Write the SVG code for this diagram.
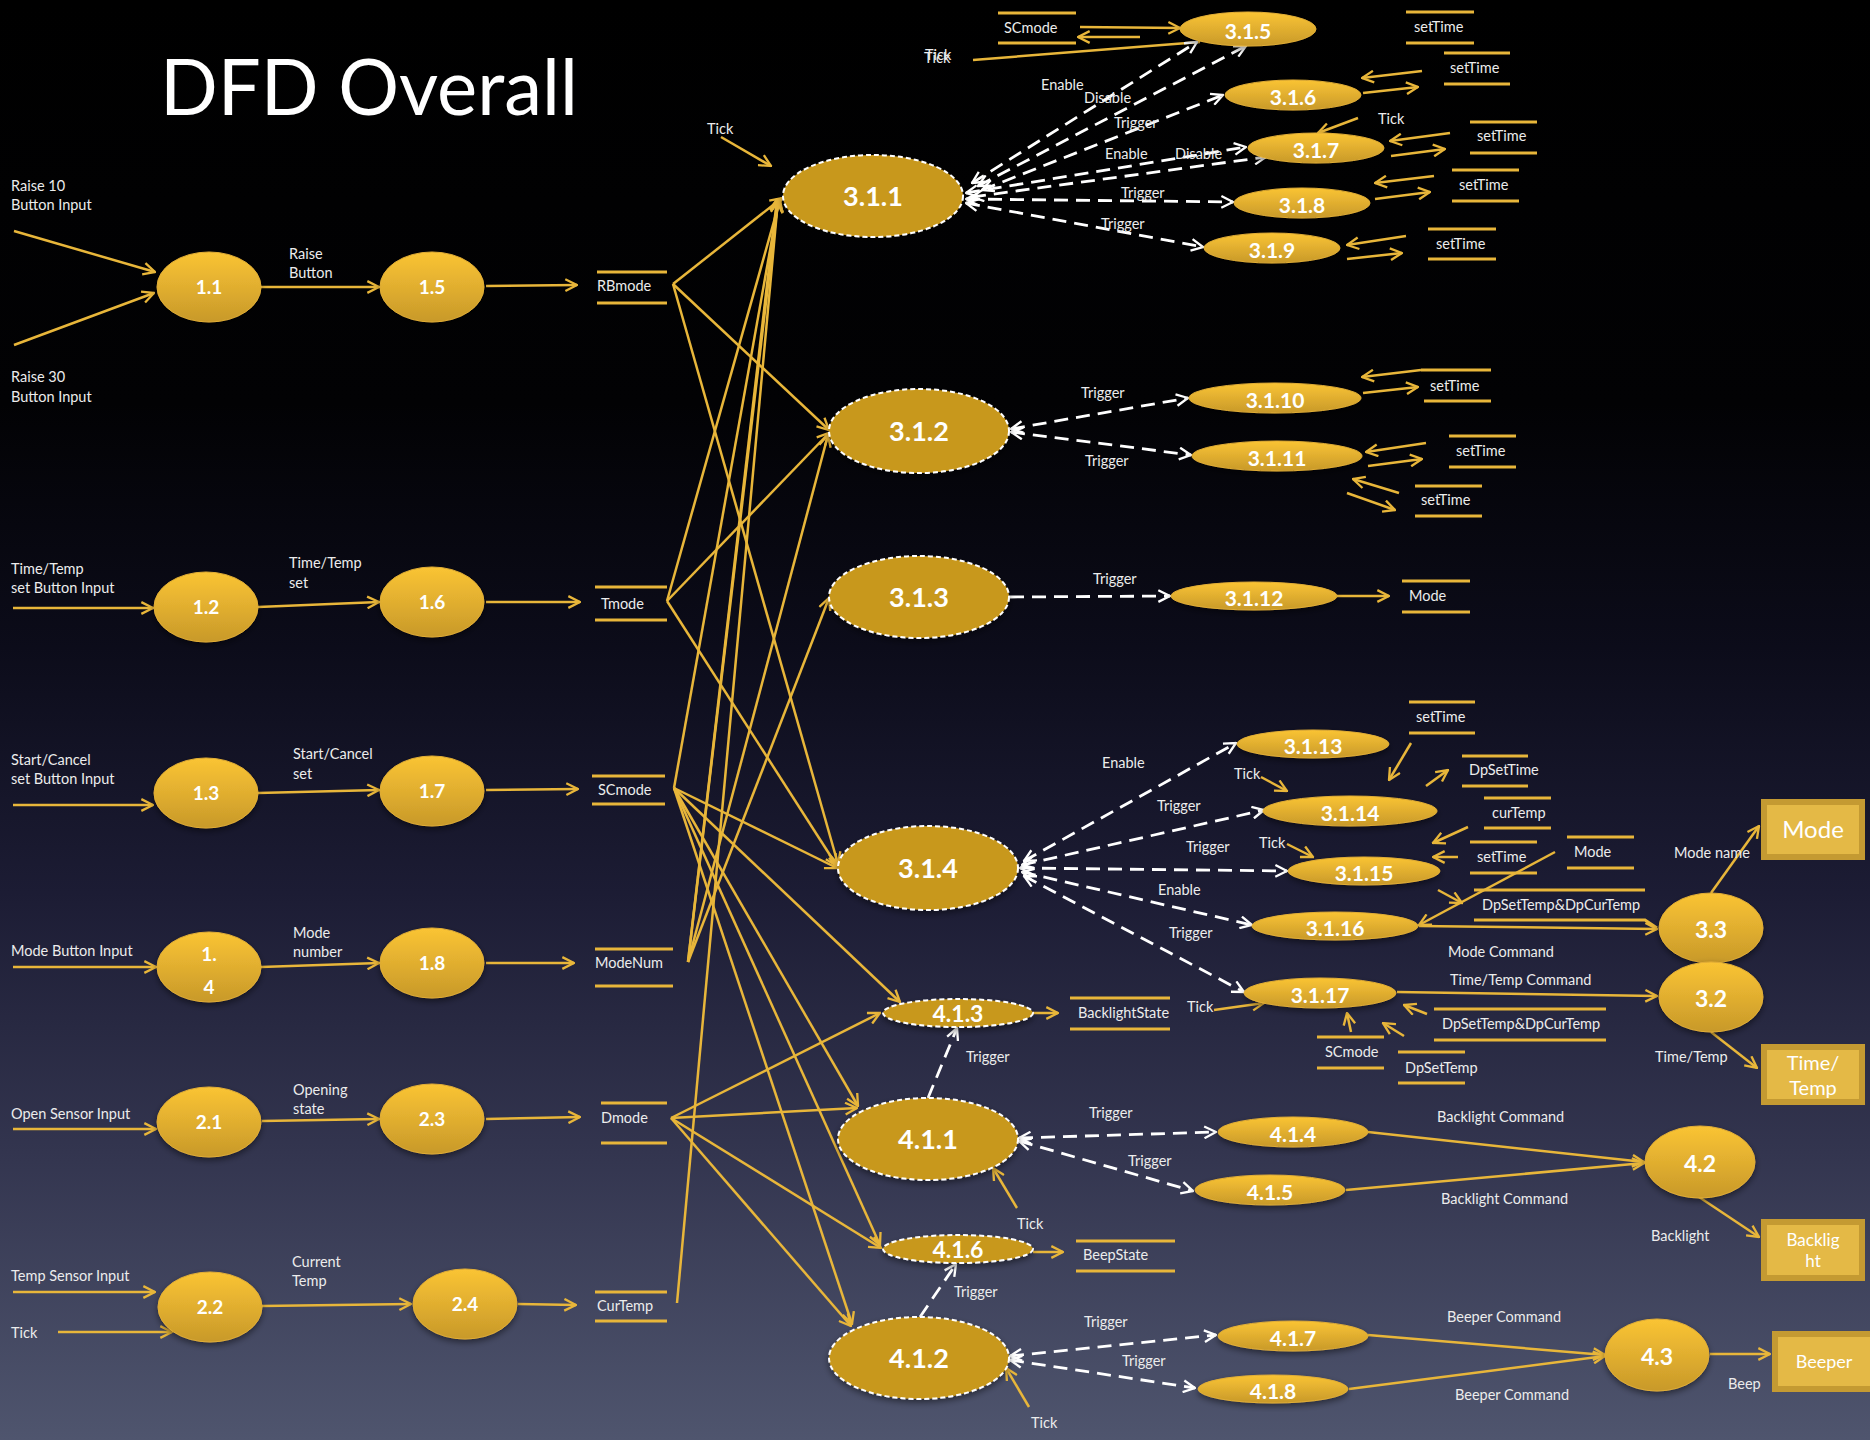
<svg xmlns="http://www.w3.org/2000/svg" width="1870" height="1440" viewBox="0 0 1870 1440">
<defs>
  <linearGradient id="bg" x1="0" y1="0" x2="0" y2="1">
    <stop offset="0" stop-color="#000000"/>
    <stop offset="0.28" stop-color="#020204"/>
    <stop offset="0.45" stop-color="#0c0c1a"/>
    <stop offset="0.62" stop-color="#1c1c34"/>
    <stop offset="0.8" stop-color="#33354f"/>
    <stop offset="1" stop-color="#4f556e"/>
  </linearGradient>
  <linearGradient id="gold" x1="0" y1="0" x2="0" y2="1">
    <stop offset="0" stop-color="#fac434"/>
    <stop offset="1" stop-color="#c8992a"/>
  </linearGradient>
  <filter id="sh" x="-20%" y="-20%" width="140%" height="150%">
    <feDropShadow dx="0" dy="3" stdDeviation="3" flood-color="#000" flood-opacity="0.45"/>
  </filter>
  <marker id="ah" viewBox="0 0 12 12" refX="11" refY="6" markerWidth="14" markerHeight="14" markerUnits="userSpaceOnUse" orient="auto">
    <path d="M1,1 L11,6 L1,11" fill="none" stroke="#e8b63a" stroke-width="2"/>
  </marker>
  <marker id="wh" viewBox="0 0 12 12" refX="11" refY="6" markerWidth="14" markerHeight="14" markerUnits="userSpaceOnUse" orient="auto-start-reverse">
    <path d="M1,1 L11,6 L1,11" fill="none" stroke="#ffffff" stroke-width="2"/>
  </marker>
  <style>
    .lbl{font-family:Lato,"Liberation Sans",sans-serif;font-size:14.5px;fill:#ececec}
    .ttl{font-family:Lato,"Liberation Sans",sans-serif;font-size:77px;fill:#ffffff}
    .num{font-family:Lato,"Liberation Sans",sans-serif;font-weight:700;fill:#ffffff;text-anchor:middle}
    .n19{font-size:19px}
    .n21{font-size:21px}
    .n23{font-size:23px}
    .n27{font-size:27px}
    .node{fill:url(#gold);stroke:#e2ae36;stroke-width:1;filter:url(#sh)}
    .dnode{fill:#c8981c;stroke:#ffffff;stroke-width:2;stroke-dasharray:5 3;filter:url(#sh)}
    .ent{fill:#e4b946;stroke:#c49a32;stroke-width:6}
    .entt{font-family:Lato,"Liberation Sans",sans-serif;fill:#ffffff;text-anchor:middle}
    .store{stroke:#e8b63a;stroke-width:3;fill:none}
    .f{stroke:#e8b63a;stroke-width:2.5;fill:none;marker-end:url(#ah)}
    .p{stroke:#e8b63a;stroke-width:2.5;fill:none}
    .d{stroke:#ffffff;stroke-width:2.8;stroke-dasharray:14 8;fill:none;marker-end:url(#wh)}
    .b{marker-start:url(#wh)}
  </style>
</defs>

<rect x="0" y="0" width="1870" height="1440" fill="url(#bg)"/>
<text class="ttl" x="160" y="115" textLength="418" lengthAdjust="spacingAndGlyphs">DFD Overall</text>

<!-- flows -->
<g id="connectors">
  <!-- input rows -->
  <line class="f" x1="14" y1="231" x2="155" y2="272"/>
  <line class="f" x1="14" y1="345" x2="154" y2="293"/>
  <line class="f" x1="261" y1="287" x2="379" y2="287"/>
  <line class="f" x1="486" y1="286" x2="577" y2="285"/>
  <line class="f" x1="13" y1="608" x2="153" y2="608"/>
  <line class="f" x1="258" y1="607" x2="379" y2="602"/>
  <line class="f" x1="486" y1="602" x2="580" y2="602"/>
  <line class="f" x1="13" y1="805" x2="153" y2="805"/>
  <line class="f" x1="258" y1="793" x2="379" y2="790"/>
  <line class="f" x1="486" y1="790" x2="578" y2="789"/>
  <line class="f" x1="13" y1="967" x2="156" y2="967"/>
  <line class="f" x1="261" y1="967" x2="379" y2="963"/>
  <line class="f" x1="486" y1="963" x2="574" y2="963"/>
  <line class="f" x1="13" y1="1129" x2="156" y2="1129"/>
  <line class="f" x1="262" y1="1121" x2="379" y2="1119"/>
  <line class="f" x1="486" y1="1119" x2="580" y2="1117"/>
  <line class="f" x1="13" y1="1292" x2="155" y2="1292"/>
  <line class="f" x1="58" y1="1332" x2="172" y2="1332"/>
  <line class="f" x1="262" y1="1306" x2="411" y2="1304"/>
  <line class="f" x1="518" y1="1304" x2="576" y2="1305"/>

  <!-- stores fanning out to mode handlers -->
  <line class="f" x1="673" y1="284" x2="782" y2="198"/>
  <line class="f" x1="673" y1="284" x2="829" y2="430"/>
  <line class="f" x1="673" y1="284" x2="838" y2="864"/>
  <line class="f" x1="667" y1="601" x2="780" y2="200"/>
  <line class="f" x1="667" y1="601" x2="829" y2="433"/>
  <line class="f" x1="667" y1="601" x2="837" y2="866"/>
  <line class="f" x1="674" y1="788" x2="779" y2="200"/>
  <line class="f" x1="674" y1="788" x2="837" y2="868"/>
  <line class="f" x1="674" y1="788" x2="900" y2="1002"/>
  <line class="f" x1="674" y1="788" x2="858" y2="1106"/>
  <line class="f" x1="674" y1="788" x2="880" y2="1245"/>
  <line class="f" x1="674" y1="788" x2="852" y2="1324"/>
  <line class="f" x1="688" y1="962" x2="778" y2="201"/>
  <line class="f" x1="688" y1="962" x2="777" y2="199"/>
  <line class="f" x1="688" y1="962" x2="828" y2="435"/>
  <line class="f" x1="688" y1="962" x2="829" y2="598"/>
  <line class="f" x1="671" y1="1118" x2="880" y2="1013"/>
  <line class="f" x1="671" y1="1118" x2="857" y2="1108"/>
  <line class="f" x1="671" y1="1118" x2="881" y2="1248"/>
  <line class="f" x1="671" y1="1118" x2="851" y2="1326"/>
  <line class="f" x1="677" y1="1303" x2="778" y2="200"/>

  <!-- 3.1.1 cluster -->
  <line class="f" x1="721" y1="137" x2="771" y2="166"/>
  <line class="f" x1="1080" y1="27" x2="1180" y2="28"/>
  <line class="f" x1="1140" y1="37" x2="1078" y2="37"/>
  <line class="p" x1="973" y1="60" x2="1200" y2="42"/>
  <line class="f" x1="1422" y1="71" x2="1362" y2="78"/>
  <line class="f" x1="1363" y1="93" x2="1418" y2="87"/>
  <line class="f" x1="1358" y1="118" x2="1318" y2="133"/>
  <line class="f" x1="1450" y1="133" x2="1390" y2="141"/>
  <line class="f" x1="1391" y1="156" x2="1445" y2="149"/>
  <line class="f" x1="1434" y1="176" x2="1375" y2="183"/>
  <line class="f" x1="1375" y1="199" x2="1430" y2="192"/>
  <line class="f" x1="1406" y1="236" x2="1347" y2="245"/>
  <line class="f" x1="1347" y1="259" x2="1402" y2="253"/>
  <path class="d b" d="M972,183 L1197,42"/>
  <path class="d b" d="M978,186 L1246,46"/>
  <path class="d b" d="M982,190 L1223,95"/>
  <path class="d b" d="M966,193 L1246,147"/>
  <path class="d b" d="M972,197 L1266,157"/>
  <path class="d b" d="M966,199 L1233,202"/>
  <path class="d b" d="M966,203 L1203,247"/>

  <!-- 3.1.2 / 3.1.3 cluster -->
  <path class="d b" d="M1011,429 L1188,398"/>
  <path class="d b" d="M1011,432 L1191,455"/>
  <line class="f" x1="1421" y1="370" x2="1362" y2="377"/>
  <line class="f" x1="1363" y1="393" x2="1418" y2="387"/>
  <line class="f" x1="1426" y1="443" x2="1366" y2="452"/>
  <line class="f" x1="1368" y1="466" x2="1422" y2="459"/>
  <line class="f" x1="1399" y1="493" x2="1353" y2="479"/>
  <line class="f" x1="1347" y1="493" x2="1395" y2="510"/>
  <path class="d" d="M1010,597 L1170,596"/>
  <line class="f" x1="1337" y1="596" x2="1389" y2="596"/>

  <!-- 3.1.4 cluster -->
  <path class="d b" d="M1024,861 L1236,743"/>
  <path class="d b" d="M1022,865 L1264,810"/>
  <path class="d b" d="M1020,868 L1287,871"/>
  <path class="d b" d="M1022,872 L1252,925"/>
  <path class="d b" d="M1024,876 L1244,992"/>
  <line class="f" x1="1411" y1="743" x2="1389" y2="780"/>
  <line class="f" x1="1261" y1="777" x2="1287" y2="791"/>
  <line class="f" x1="1426" y1="786" x2="1448" y2="770"/>
  <line class="f" x1="1468" y1="827" x2="1433" y2="843"/>
  <line class="f" x1="1458" y1="857" x2="1433" y2="857"/>
  <line class="f" x1="1287" y1="844" x2="1313" y2="857"/>
  <line class="f" x1="1438" y1="890" x2="1462" y2="903"/>
  <line class="f" x1="1555" y1="852" x2="1419" y2="925"/>
  <line class="f" x1="1419" y1="926" x2="1657" y2="929"/>
  <line class="f" x1="1397" y1="992" x2="1657" y2="996"/>
  <line class="f" x1="1214" y1="1010" x2="1264" y2="1003"/>
  <line class="f" x1="1427" y1="1014" x2="1404" y2="1005"/>
  <line class="f" x1="1351" y1="1032" x2="1347" y2="1013"/>
  <line class="f" x1="1404" y1="1036" x2="1383" y2="1023"/>
  <line class="f" x1="1711" y1="893" x2="1759" y2="826"/>
  <line class="f" x1="1711" y1="1032" x2="1757" y2="1068"/>

  <!-- 4.x clusters -->
  <line class="f" x1="1033" y1="1013" x2="1058" y2="1013"/>
  <path class="d" d="M928,1098 L957,1028"/>
  <path class="d b" d="M1019,1138 L1216,1132"/>
  <path class="d b" d="M1019,1141 L1193,1191"/>
  <line class="f" x1="1368" y1="1132" x2="1644" y2="1162"/>
  <line class="f" x1="1346" y1="1190" x2="1644" y2="1163"/>
  <line class="f" x1="1699" y1="1197" x2="1759" y2="1237"/>
  <line class="f" x1="1017" y1="1208" x2="993" y2="1168"/>
  <line class="f" x1="1033" y1="1252" x2="1063" y2="1252"/>
  <path class="d" d="M920,1317 L956,1264"/>
  <path class="d b" d="M1010,1356 L1216,1335"/>
  <path class="d b" d="M1010,1360 L1195,1388"/>
  <line class="f" x1="1368" y1="1335" x2="1605" y2="1355"/>
  <line class="f" x1="1349" y1="1389" x2="1605" y2="1356"/>
  <line class="f" x1="1710" y1="1354" x2="1770" y2="1354"/>
  <line class="f" x1="1029" y1="1407" x2="1006" y2="1368"/>
</g>

<!-- flow labels -->
<g id="labels" class="lbl">
  <text x="11" y="191">Raise 10</text><text x="11" y="210">Button Input</text>
  <text x="11" y="382">Raise 30</text><text x="11" y="402">Button Input</text>
  <text x="289" y="259">Raise</text><text x="289" y="278">Button</text>
  <text x="11" y="574">Time/Temp</text><text x="11" y="593">set Button Input</text>
  <text x="289" y="568">Time/Temp</text><text x="289" y="588">set</text>
  <text x="11" y="765">Start/Cancel</text><text x="11" y="784">set Button Input</text>
  <text x="293" y="759">Start/Cancel</text><text x="293" y="779">set</text>
  <text x="11" y="956">Mode Button Input</text>
  <text x="293" y="938">Mode</text><text x="293" y="957">number</text>
  <text x="11" y="1119">Open Sensor Input</text>
  <text x="293" y="1095">Opening</text><text x="293" y="1114">state</text>
  <text x="11" y="1281">Temp Sensor Input</text>
  <text x="11" y="1338">Tick</text>
  <text x="292" y="1267">Current</text><text x="292" y="1286">Temp</text>
  <text x="707" y="134">Tick</text>
  <text x="924" y="63">Tick</text><text x="925" y="60">Tick</text>
  <text x="1041" y="90">Enable</text>
  <text x="1084" y="103">Disable</text>
  <text x="1114" y="128">Trigger</text>
  <text x="1105" y="159">Enable</text>
  <text x="1175" y="159">Disable</text>
  <text x="1121" y="198">Trigger</text>
  <text x="1101" y="229">Trigger</text>
  <text x="1378" y="124">Tick</text>
  <text x="1081" y="398">Trigger</text>
  <text x="1085" y="466">Trigger</text>
  <text x="1093" y="584">Trigger</text>
  <text x="1102" y="768">Enable</text>
  <text x="1234" y="779">Tick</text>
  <text x="1157" y="811">Trigger</text>
  <text x="1186" y="852">Trigger</text>
  <text x="1259" y="848">Tick</text>
  <text x="1158" y="895">Enable</text>
  <text x="1169" y="938">Trigger</text>
  <text x="1448" y="957">Mode Command</text>
  <text x="1450" y="985">Time/Temp Command</text>
  <text x="1674" y="858">Mode name</text>
  <text x="1655" y="1062">Time/Temp</text>
  <text x="1187" y="1012">Tick</text>
  <text x="966" y="1062">Trigger</text>
  <text x="1089" y="1118">Trigger</text>
  <text x="1128" y="1166">Trigger</text>
  <text x="1437" y="1122">Backlight Command</text>
  <text x="1441" y="1204">Backlight Command</text>
  <text x="1651" y="1241">Backlight</text>
  <text x="1017" y="1229">Tick</text>
  <text x="954" y="1297">Trigger</text>
  <text x="1084" y="1327">Trigger</text>
  <text x="1122" y="1366">Trigger</text>
  <text x="1447" y="1322">Beeper Command</text>
  <text x="1455" y="1400">Beeper Command</text>
  <text x="1728" y="1389">Beep</text>
  <text x="1031" y="1428">Tick</text>
</g>

<!-- data stores -->
<g id="st_RBmode"><path class="store" d="M597,272 H667 M597,303 H667"/><text class="lbl" x="597" y="291">RBmode</text></g>
<g id="st_Tmode"><path class="store" d="M595,587 H667 M595,620 H667"/><text class="lbl" x="601" y="609">Tmode</text></g>
<g id="st_SCmode"><path class="store" d="M592,776 H665 M592,804 H665"/><text class="lbl" x="598" y="795">SCmode</text></g>
<g id="st_ModeNum"><path class="store" d="M595,949 H673 M595,986 H673"/><text class="lbl" x="595" y="968">ModeNum</text></g>
<g id="st_Dmode"><path class="store" d="M601,1103 H667 M601,1143 H667"/><text class="lbl" x="601" y="1123">Dmode</text></g>
<g id="st_CurTemp"><path class="store" d="M595,1292 H667 M595,1321 H667"/><text class="lbl" x="597" y="1311">CurTemp</text></g>

<g id="st_SCmode_top"><path class="store" d="M998,13 H1076 M998,43 H1076"/><text class="lbl" x="1004" y="33">SCmode</text></g>
<g id="st_setTime_a"><path class="store" d="M1406,12 H1474 M1406,43 H1474"/><text class="lbl" x="1414" y="32">setTime</text></g>
<g id="st_setTime_b"><path class="store" d="M1444,53 H1510 M1444,84 H1510"/><text class="lbl" x="1450" y="73">setTime</text></g>
<g id="st_setTime_c"><path class="store" d="M1470,122 H1537 M1470,153 H1537"/><text class="lbl" x="1477" y="141">setTime</text></g>
<g id="st_setTime_d"><path class="store" d="M1452,170 H1519 M1452,201 H1519"/><text class="lbl" x="1459" y="190">setTime</text></g>
<g id="st_setTime_e"><path class="store" d="M1428,229 H1496 M1428,259 H1496"/><text class="lbl" x="1436" y="249">setTime</text></g>
<g id="st_setTime_f"><path class="store" d="M1421,370 H1491 M1424,401 H1491"/><text class="lbl" x="1430" y="391">setTime</text></g>
<g id="st_setTime_g"><path class="store" d="M1449,436 H1516 M1449,467 H1516"/><text class="lbl" x="1456" y="456">setTime</text></g>
<g id="st_setTime_h"><path class="store" d="M1415,486 H1482 M1415,516 H1482"/><text class="lbl" x="1421" y="505">setTime</text></g>
<g id="st_Mode_a"><path class="store" d="M1402,581 H1470 M1402,612 H1470"/><text class="lbl" x="1409" y="601">Mode</text></g>
<g id="st_setTime_i"><path class="store" d="M1409,702 H1475 M1409,733 H1475"/><text class="lbl" x="1416" y="722">setTime</text></g>
<g id="st_DpSetTime"><path class="store" d="M1462,756 H1528 M1462,786 H1528"/><text class="lbl" x="1469" y="775">DpSetTime</text></g>
<g id="st_curTemp"><path class="store" d="M1484,798 H1551 M1484,828 H1551"/><text class="lbl" x="1492" y="818">curTemp</text></g>
<g id="st_setTime_j"><path class="store" d="M1470,842 H1537 M1470,873 H1537"/><text class="lbl" x="1477" y="862">setTime</text></g>
<g id="st_Mode_b"><path class="store" d="M1567,837 H1634 M1567,868 H1634"/><text class="lbl" x="1574" y="857">Mode</text></g>
<g id="st_DpSetTempDpCurTemp_a"><path class="store" d="M1474,890 H1645 M1474,920 H1645 L1657,928"/><text class="lbl" x="1482" y="910">DpSetTemp&amp;DpCurTemp</text></g>
<g id="st_DpSetTempDpCurTemp_b"><path class="store" d="M1434,1009 H1606 M1434,1040 H1606"/><text class="lbl" x="1442" y="1029">DpSetTemp&amp;DpCurTemp</text></g>
<g id="st_SCmode_low"><path class="store" d="M1317,1037 H1384 M1317,1068 H1384"/><text class="lbl" x="1325" y="1057">SCmode</text></g>
<g id="st_DpSetTemp"><path class="store" d="M1398,1052 H1465 M1398,1083 H1465"/><text class="lbl" x="1405" y="1073">DpSetTemp</text></g>
<g id="st_BacklightState"><path class="store" d="M1070,998 H1170 M1070,1029 H1170"/><text class="lbl" x="1078" y="1018">BacklightState</text></g>
<g id="st_BeepState"><path class="store" d="M1076,1241 H1175 M1076,1271 H1175"/><text class="lbl" x="1083" y="1260">BeepState</text></g>

<!-- input processes -->
<g id="p1_1"><ellipse class="node" cx="209" cy="287" rx="52" ry="35"/><text class="num n19" x="209" y="294">1.1</text></g>
<g id="p1_5"><ellipse class="node" cx="432" cy="287" rx="52" ry="35"/><text class="num n19" x="432" y="294">1.5</text></g>
<g id="p1_2"><ellipse class="node" cx="206" cy="607" rx="52" ry="35"/><text class="num n19" x="206" y="614">1.2</text></g>
<g id="p1_6"><ellipse class="node" cx="432" cy="602" rx="52" ry="35"/><text class="num n19" x="432" y="609">1.6</text></g>
<g id="p1_3"><ellipse class="node" cx="206" cy="793" rx="52" ry="35"/><text class="num n19" x="206" y="800">1.3</text></g>
<g id="p1_7"><ellipse class="node" cx="432" cy="791" rx="52" ry="35"/><text class="num n19" x="432" y="798">1.7</text></g>
<g id="p1_4"><ellipse class="node" cx="209" cy="967" rx="52" ry="35"/><text class="num n19" x="209" y="961">1.</text><text class="num n19" x="209" y="994">4</text></g>
<g id="p1_8"><ellipse class="node" cx="432" cy="963" rx="52" ry="35"/><text class="num n19" x="432" y="970">1.8</text></g>
<g id="p2_1"><ellipse class="node" cx="209" cy="1122" rx="52" ry="35"/><text class="num n19" x="209" y="1129">2.1</text></g>
<g id="p2_3"><ellipse class="node" cx="432" cy="1119" rx="52" ry="35"/><text class="num n19" x="432" y="1126">2.3</text></g>
<g id="p2_2"><ellipse class="node" cx="210" cy="1307" rx="52" ry="35"/><text class="num n19" x="210" y="1314">2.2</text></g>
<g id="p2_4"><ellipse class="node" cx="465" cy="1304" rx="52" ry="35"/><text class="num n19" x="465" y="1311">2.4</text></g>

<!-- control processes (dashed) -->
<g id="p3_1_1"><ellipse class="dnode" cx="873" cy="196" rx="90" ry="41"/><text class="num n27" x="873" y="206">3.1.1</text></g>
<g id="p3_1_2"><ellipse class="dnode" cx="919" cy="431" rx="90" ry="42"/><text class="num n27" x="919" y="441">3.1.2</text></g>
<g id="p3_1_3"><ellipse class="dnode" cx="919" cy="597" rx="90" ry="41"/><text class="num n27" x="919" y="607">3.1.3</text></g>
<g id="p3_1_4"><ellipse class="dnode" cx="928" cy="868" rx="90" ry="42"/><text class="num n27" x="928" y="878">3.1.4</text></g>
<g id="p4_1_1"><ellipse class="dnode" cx="928" cy="1139" rx="90" ry="41"/><text class="num n27" x="928" y="1149">4.1.1</text></g>
<g id="p4_1_2"><ellipse class="dnode" cx="919" cy="1358" rx="90" ry="41"/><text class="num n27" x="919" y="1368">4.1.2</text></g>
<g id="p4_1_3"><ellipse class="dnode" cx="958" cy="1013" rx="75" ry="14"/><text class="num n23" x="958" y="1022">4.1.3</text></g>
<g id="p4_1_6"><ellipse class="dnode" cx="958" cy="1249" rx="75" ry="14"/><text class="num n23" x="958" y="1258">4.1.6</text></g>

<!-- sub-processes -->
<g id="p3_1_5"><ellipse class="node" cx="1248" cy="29" rx="68" ry="17"/><text class="num n21" x="1248" y="39">3.1.5</text></g>
<g id="p3_1_6"><ellipse class="node" cx="1293" cy="95" rx="68" ry="15"/><text class="num n21" x="1293" y="105">3.1.6</text></g>
<g id="p3_1_7"><ellipse class="node" cx="1316" cy="148" rx="68" ry="15"/><text class="num n21" x="1316" y="158">3.1.7</text></g>
<g id="p3_1_8"><ellipse class="node" cx="1302" cy="203" rx="68" ry="15"/><text class="num n21" x="1302" y="213">3.1.8</text></g>
<g id="p3_1_9"><ellipse class="node" cx="1272" cy="248" rx="68" ry="15"/><text class="num n21" x="1272" y="258">3.1.9</text></g>
<g id="p3_1_10"><ellipse class="node" cx="1275" cy="398" rx="86" ry="15"/><text class="num n21" x="1275" y="408">3.1.10</text></g>
<g id="p3_1_11"><ellipse class="node" cx="1277" cy="456" rx="85" ry="15"/><text class="num n21" x="1277" y="466">3.1.11</text></g>
<g id="p3_1_12"><ellipse class="node" cx="1254" cy="596" rx="83" ry="14"/><text class="num n21" x="1254" y="606">3.1.12</text></g>
<g id="p3_1_13"><ellipse class="node" cx="1313" cy="744" rx="76" ry="14"/><text class="num n21" x="1313" y="754">3.1.13</text></g>
<g id="p3_1_14"><ellipse class="node" cx="1350" cy="811" rx="87" ry="15"/><text class="num n21" x="1350" y="821">3.1.14</text></g>
<g id="p3_1_15"><ellipse class="node" cx="1364" cy="871" rx="76" ry="14"/><text class="num n21" x="1364" y="881">3.1.15</text></g>
<g id="p3_1_16"><ellipse class="node" cx="1335" cy="926" rx="83" ry="14"/><text class="num n21" x="1335" y="936">3.1.16</text></g>
<g id="p3_1_17"><ellipse class="node" cx="1320" cy="993" rx="76" ry="15"/><text class="num n21" x="1320" y="1003">3.1.17</text></g>
<g id="p4_1_4"><ellipse class="node" cx="1293" cy="1132" rx="75" ry="15"/><text class="num n21" x="1293" y="1142">4.1.4</text></g>
<g id="p4_1_5"><ellipse class="node" cx="1270" cy="1190" rx="75" ry="15"/><text class="num n21" x="1270" y="1200">4.1.5</text></g>
<g id="p4_1_7"><ellipse class="node" cx="1293" cy="1336" rx="75" ry="15"/><text class="num n21" x="1293" y="1346">4.1.7</text></g>
<g id="p4_1_8"><ellipse class="node" cx="1273" cy="1389" rx="75" ry="14"/><text class="num n21" x="1273" y="1399">4.1.8</text></g>

<!-- output processes -->
<g id="p3_3"><ellipse class="node" cx="1711" cy="928" rx="52" ry="35"/><text class="num n23" x="1711" y="938">3.3</text></g>
<g id="p3_2"><ellipse class="node" cx="1711" cy="997" rx="52" ry="35"/><text class="num n23" x="1711" y="1007">3.2</text></g>
<g id="p4_2"><ellipse class="node" cx="1700" cy="1162" rx="55" ry="36"/><text class="num n23" x="1700" y="1172">4.2</text></g>
<g id="p4_3"><ellipse class="node" cx="1657" cy="1355" rx="52" ry="36"/><text class="num n23" x="1657" y="1365">4.3</text></g>

<!-- external entities -->
<g id="e_Mode"><rect class="ent" x="1764" y="802" width="98" height="55"/><text class="entt" x="1813" y="838" font-size="24">Mode</text></g>
<g id="e_TimeTemp"><rect class="ent" x="1764" y="1047" width="98" height="55"/><text class="entt" x="1813" y="1070" font-size="20">Time/</text><text class="entt" x="1813" y="1095" font-size="20">Temp</text></g>
<g id="e_Backlight"><rect class="ent" x="1764" y="1222" width="98" height="56"/><text class="entt" x="1813" y="1246" font-size="17">Backlig</text><text class="entt" x="1813" y="1267" font-size="17">ht</text></g>
<g id="e_Beeper"><rect class="ent" x="1775" y="1334" width="98" height="55"/><text class="entt" x="1824" y="1368" font-size="18">Beeper</text></g>
</svg>
